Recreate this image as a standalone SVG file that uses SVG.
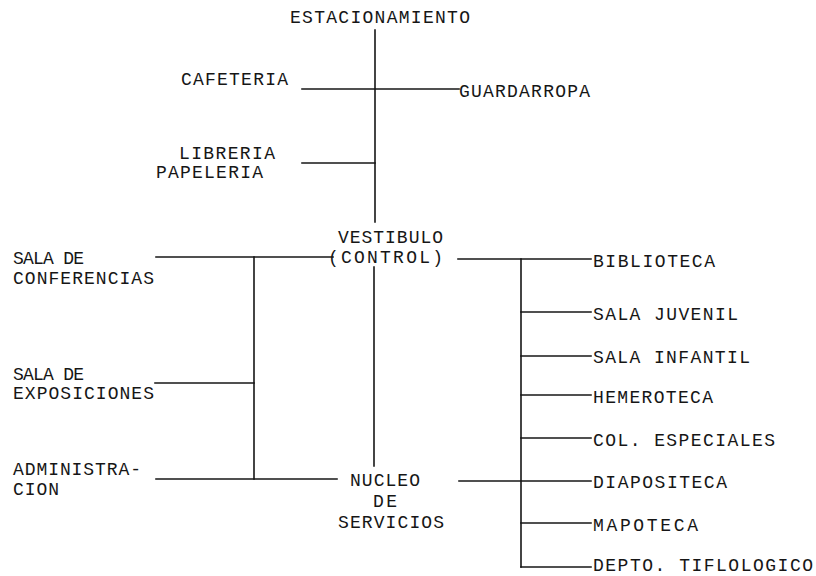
<svg xmlns="http://www.w3.org/2000/svg" width="816" height="576" viewBox="0 0 816 576">
<style>
text{font-family:"Liberation Mono","DejaVu Sans Mono",monospace;font-size:18px;fill:#161616}
#connectors line{stroke:#161616;stroke-width:1.6;stroke-linecap:square}
</style>
<rect width="816" height="576" fill="#ffffff"/>
<g id="connectors">
<line x1="375" y1="30" x2="375" y2="222"/>
<line x1="374" y1="267" x2="374" y2="466"/>
<line x1="302" y1="89" x2="459" y2="89"/>
<line x1="302" y1="163" x2="375" y2="163"/>
<line x1="156" y1="257" x2="333" y2="257"/>
<line x1="254" y1="257" x2="254" y2="479"/>
<line x1="155" y1="383" x2="254" y2="383"/>
<line x1="156" y1="479" x2="337" y2="479"/>
<line x1="458" y1="259" x2="591" y2="259"/>
<line x1="521" y1="259" x2="521" y2="567"/>
<line x1="521" y1="312" x2="591" y2="312"/>
<line x1="521" y1="356" x2="591" y2="356"/>
<line x1="521" y1="395" x2="591" y2="395"/>
<line x1="521" y1="438" x2="591" y2="438"/>
<line x1="459" y1="481" x2="591" y2="481"/>
<line x1="521" y1="523" x2="591" y2="523"/>
<line x1="521" y1="567" x2="591" y2="567"/>
</g>
<g id="estacionamiento"><text x="290" y="23" textLength="180">ESTACIONAMIENTO</text></g>
<g id="cafeteria"><text x="181" y="85" textLength="107">CAFETERIA</text></g>
<g id="guardarropa"><text x="459" y="97" textLength="131">GUARDARROPA</text></g>
<g id="libreria"><text x="179" y="159" textLength="96">LIBRERIA</text><text x="156" y="178" textLength="107">PAPELERIA</text></g>
<g id="vestibulo"><text x="338" y="243" textLength="105">VESTIBULO</text><text x="328" y="263" textLength="115">(CONTROL)</text></g>
<g id="sala-conferencias"><text x="13" y="264" textLength="71">SALA DE</text><text x="13" y="284" textLength="141">CONFERENCIAS</text></g>
<g id="sala-exposiciones"><text x="13" y="380" textLength="71">SALA DE</text><text x="13" y="399" textLength="141">EXPOSICIONES</text></g>
<g id="administracion"><text x="13" y="475" textLength="128">ADMINISTRA-</text><text x="13" y="495" textLength="46">CION</text></g>
<g id="nucleo"><text x="350" y="486" textLength="70">NUCLEO</text><text x="373" y="507" textLength="24">DE</text><text x="338" y="528" textLength="106">SERVICIOS</text></g>
<g id="biblioteca"><text x="593" y="267" textLength="122">BIBLIOTECA</text></g>
<g id="sala-juvenil"><text x="593" y="320" textLength="145">SALA JUVENIL</text></g>
<g id="sala-infantil"><text x="593" y="363" textLength="157">SALA INFANTIL</text></g>
<g id="hemeroteca"><text x="593" y="403" textLength="120">HEMEROTECA</text></g>
<g id="col-especiales"><text x="593" y="446" textLength="182">COL. ESPECIALES</text></g>
<g id="diapositeca"><text x="593" y="488" textLength="134">DIAPOSITECA</text></g>
<g id="mapoteca"><text x="593" y="531" textLength="105">MAPOTECA</text></g>
<g id="depto-tiflologico"><text x="593" y="571" textLength="220">DEPTO. TIFLOLOGICO</text></g>
</svg>
